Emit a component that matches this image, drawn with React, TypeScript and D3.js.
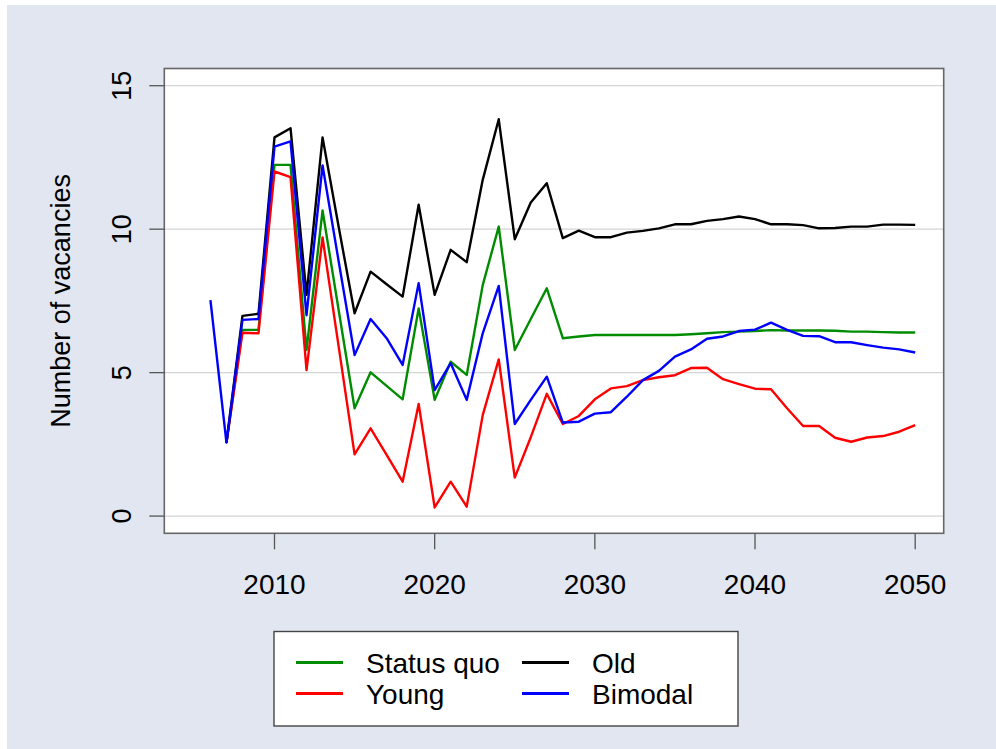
import * as d3 from 'd3';

const YEARS = [
  2006, 2007, 2008, 2009, 2010, 2011, 2012, 2013, 2014, 2015, 2016, 2017, 2018, 2019, 2020,
  2021, 2022, 2023, 2024, 2025, 2026, 2027, 2028, 2029, 2030, 2031, 2032, 2033, 2034, 2035,
  2036, 2037, 2038, 2039, 2040, 2041, 2042, 2043, 2044, 2045, 2046, 2047, 2048, 2049, 2050,
];

// null = no value for that year
const STATUS_QUO = [
  null, 2.56, 6.49, 6.49, 12.24, 12.24, 5.79, 10.65, 7.2, 3.76, 5.01, 4.54, 4.07, 7.24, 4.05,
  5.38, 4.92, 8.05, 10.09, 5.79, 6.87, 7.94, 6.2, 6.26, 6.31, 6.31, 6.31, 6.31, 6.31, 6.31,
  6.34, 6.37, 6.41, 6.43, 6.45, 6.48, 6.47, 6.47, 6.47, 6.46, 6.43, 6.43, 6.41, 6.4, 6.4,
];
const YOUNG = [
  null, 2.56, 6.39, 6.37, 12.01, 11.81, 5.09, 9.71, 5.93, 2.15, 3.06, 2.13, 1.2, 3.91, 0.3,
  1.2, 0.33, 3.52, 5.46, 1.34, 2.75, 4.26, 3.21, 3.49, 4.07, 4.45, 4.53, 4.74, 4.84, 4.91,
  5.16, 5.17, 4.77, 4.6, 4.44, 4.42, 3.76, 3.14, 3.14, 2.73, 2.59, 2.74, 2.79, 2.94, 3.17,
];
const OLD = [
  null, 2.56, 6.98, 7.05, 13.2, 13.52, 7.71, 13.2, 10.1, 7.07, 8.52, 8.08, 7.65, 10.85, 7.71,
  9.28, 8.85, 11.72, 13.83, 9.65, 10.93, 11.6, 9.69, 9.95, 9.72, 9.72, 9.88, 9.94, 10.03, 10.17,
  10.17, 10.29, 10.35, 10.44, 10.35, 10.17, 10.17, 10.14, 10.03, 10.04, 10.09, 10.09, 10.16, 10.16, 10.15,
];
const BIMODAL = [
  7.53, 2.56, 6.84, 6.87, 12.88, 13.06, 7.0, 12.22, 8.9, 5.61, 6.87, 6.2, 5.27, 8.12, 4.39,
  5.33, 4.05, 6.37, 8.02, 3.21, 4.05, 4.86, 3.26, 3.29, 3.57, 3.62, 4.16, 4.74, 5.06, 5.56,
  5.81, 6.18, 6.26, 6.45, 6.5, 6.74, 6.49, 6.28, 6.27, 6.06, 6.06, 5.96, 5.87, 5.81, 5.7,
];

const X_TICKS = [2010, 2020, 2030, 2040, 2050];
const Y_TICKS = [0, 5, 10, 15];

const SERIES = [
  { name: 'Status quo', values: STATUS_QUO, color: '#008c00' },
  { name: 'Young', values: YOUNG, color: '#ff0000' },
  { name: 'Old', values: OLD, color: '#000000' },
  { name: 'Bimodal', values: BIMODAL, color: '#0000ff' },
];

// legend layout, R style: two columns
const LEGEND_COLS = [
  ['Status quo', 'Young'],
  ['Old', 'Bimodal'],
];

const W = 996;
const H = 749;
const box = { left: 164.3, right: 943.7, top: 68.5, bottom: 533.3 };
const FONT = '"Liberation Sans", Arial, sans-serif';

export default function App() {
  const x = d3.scaleLinear().domain([2003.12, 2051.78]).range([box.left, box.right]);
  const y = d3.scaleLinear().domain([-0.6, 15.6]).range([box.bottom, box.top]);

  const line = d3
    .line<[number, number | null]>()
    .defined((d) => d[1] != null)
    .x((d) => x(d[0]))
    .y((d) => y(d[1] as number));

  const colorOf = (name: string) => SERIES.find((s) => s.name === name)!.color;

  return (
    <svg
      width={W}
      height={H}
      style={{ position: 'absolute', left: 0, top: 0, display: 'block' }}
      fontFamily={FONT}
    >
      <rect x={0} y={0} width={W} height={H} fill="#ffffff" />
      <rect x={7} y={5} width={W - 7} height={H - 5} fill="#e1e6f0" />

      <rect
        x={box.left}
        y={box.top}
        width={box.right - box.left}
        height={box.bottom - box.top}
        fill="#ffffff"
      />
      {Y_TICKS.map((t) => (
        <line
          key={'g' + t}
          x1={box.left}
          x2={box.right}
          y1={y(t)}
          y2={y(t)}
          stroke="#d4d4d4"
          strokeWidth={1.3}
        />
      ))}

      {SERIES.map((s) => (
        <path
          key={s.name}
          d={line(YEARS.map((yr, i) => [yr, s.values[i]] as [number, number | null])) ?? ''}
          fill="none"
          stroke={s.color}
          strokeWidth={2.4}
          strokeLinejoin="round"
        />
      ))}

      <rect
        x={box.left}
        y={box.top}
        width={box.right - box.left}
        height={box.bottom - box.top}
        fill="none"
        stroke="#666666"
        strokeWidth={1.6}
      />

      {/* x axis */}
      {X_TICKS.map((t) => (
        <g key={'x' + t}>
          <line x1={x(t)} x2={x(t)} y1={box.bottom} y2={box.bottom + 16} stroke="#555" strokeWidth={1.3} />
          <text x={x(t)} y={594} textAnchor="middle" fontSize={28} fill="#000">
            {t}
          </text>
        </g>
      ))}

      {/* y axis */}
      {Y_TICKS.map((t) => (
        <g key={'y' + t}>
          <line x1={box.left - 15} x2={box.left} y1={y(t)} y2={y(t)} stroke="#555" strokeWidth={1.3} />
          <text
            transform={`translate(131, ${y(t)}) rotate(-90)`}
            textAnchor="middle"
            fontSize={27}
            fill="#000"
          >
            {t}
          </text>
        </g>
      ))}
      <text
        transform={`translate(70, ${(box.top + box.bottom) / 2}) rotate(-90)`}
        textAnchor="middle"
        fontSize={27}
        fill="#000"
      >
        Number of vacancies
      </text>

      {/* legend */}
      <rect x={274} y={631.5} width={464} height={94.5} fill="#ffffff" stroke="#444" strokeWidth={1.4} />
      {LEGEND_COLS.map((col, ci) =>
        col.map((name, ri) => {
          const lx = 296 + ci * 226;
          const ly = 662.5 + ri * 31;
          return (
            <g key={name}>
              <line x1={lx} x2={lx + 47} y1={ly} y2={ly} stroke={colorOf(name)} strokeWidth={2.8} />
              <text x={lx + 70} y={ly + 10.5} fontSize={28} fill="#000">
                {name}
              </text>
            </g>
          );
        }),
      )}
    </svg>
  );
}
